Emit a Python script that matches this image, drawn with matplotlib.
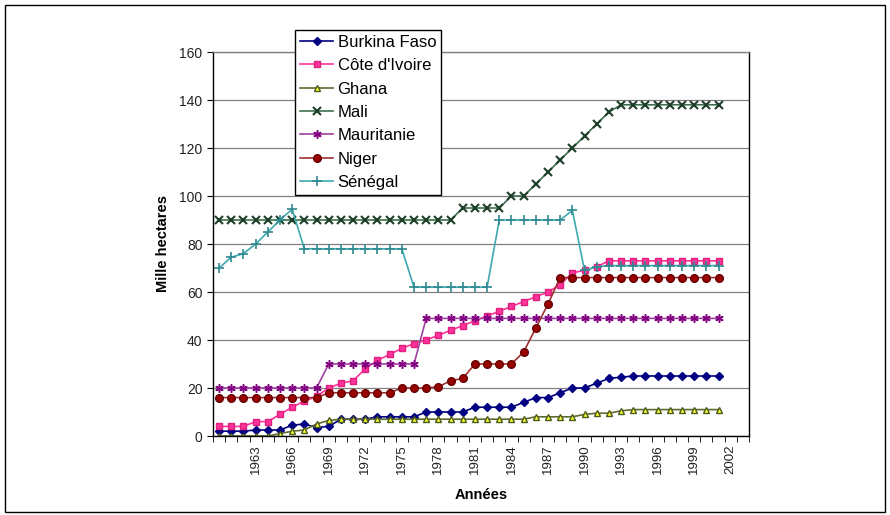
import matplotlib
matplotlib.use("Agg")
import matplotlib.pyplot as plt
from matplotlib.patches import Rectangle
import numpy as np

plt.rcParams['font.family'] = ['Liberation Sans', 'DejaVu Sans']

annees = np.arange(1960, 2002)

burkina = [2, 2, 2, 2.5, 2.5, 2.5, 4.5, 5, 3.5, 4, 7, 7, 7, 8, 8, 8, 8,
           10, 10, 10, 10, 12, 12, 12, 12, 14, 16, 16, 18, 20, 20, 22, 24,
           24.5, 25, 25, 25, 25, 25, 25, 25, 25]
cote_ivoire = [4, 4, 4, 6, 6, 9, 12, 14.5, 16.5, 20, 22, 23, 28, 31.5, 34,
               36.5, 38.5, 40, 42, 44, 46, 48, 50, 52, 54, 56, 58, 60, 63,
               68, 69, 70.5, 73, 73, 73, 73, 73, 73, 73, 73, 73, 73]
ghana = [0, 0, 0, 0, 0, 1, 2, 2.5, 5, 6.5, 7, 7, 7, 7, 7, 7, 7, 7, 7, 7,
         7, 7, 7, 7, 7, 7, 8, 8, 8, 8, 9, 9.5, 9.5, 10.5, 11, 11, 11, 11,
         11, 11, 11, 11]
mali = [90] * 20 + [95, 95, 95, 95, 100, 100, 105, 110, 115, 120, 125,
                    130, 135] + [138] * 9
mauritanie = [20] * 9 + [30] * 8 + [49] * 25
niger = [16] * 9 + [18] * 6 + [20, 20, 20, 20.5, 23, 24, 30, 30, 30, 30,
                               35, 45, 55] + [66] * 14
senegal = [70, 74.5, 76, 80, 85, 90, 94.5] + [78] * 9 + [62] * 7 + \
          [90] * 6 + [94, 69, 70.5] + [71] * 10

series = [
    ("Burkina Faso", burkina, dict(color="#000080", marker="D", ms=4.5,
                                   mfc="#000080", mec="#000080")),
    ("Côte d'Ivoire", cote_ivoire, dict(color="#FF3399", marker="s", ms=5,
                                        mfc="#FF3399", mec="#E0207F")),
    ("Ghana", ghana, dict(color="#5F6B2E", marker="^", ms=5,
                          mfc="#FFFF33", mec="#4A5A1A")),
    ("Mali", mali, dict(color="#3F6F4F", marker="x", ms=5.5, mew=1.5,
                        mec="#1F3F2A")),
    ("Mauritanie", mauritanie, dict(color="#A040A0", marker=(6, 2, 0),
                                    ms=6, mew=1.1, mec="#800080")),
    ("Niger", niger, dict(color="#A03030", marker="o", ms=5.5,
                          mfc="#990000", mec="#660000")),
    ("Sénégal", senegal, dict(color="#40A8B0", marker="+", ms=7, mew=1.2,
                              mec="#2F8A90")),
]

fig = plt.figure(figsize=(8.9, 5.15), dpi=100)
ax = fig.add_axes([213 / 890, 1 - 436 / 515, 536 / 890, 384 / 515])

for nom, vals, style in series:
    ax.plot(annees, vals, lw=1.2, label=nom, **style)

ax.set_xlim(1959.5, 2003.5)
ax.set_ylim(0, 160)
ax.set_yticks(np.arange(0, 161, 20))
ax.set_xticks(np.arange(1963, 2003, 3))
ax.set_xticklabels([str(a) for a in range(1963, 2003, 3)], rotation=90)
ax.set_xticks(np.arange(1959.5, 2004, 1), minor=True)
ax.tick_params(axis="x", which="major", length=0, pad=6, labelsize=9.5,
               labelcolor="#222222")
ax.tick_params(axis="x", which="minor", length=4, direction="out",
               color="black")
ax.tick_params(axis="y", length=4, direction="out", labelsize=10,
               labelcolor="#222222")
ax.grid(axis="y", color="#808080", lw=0.9)
ax.set_axisbelow(True)
for sp in ax.spines.values():
    sp.set_color("black")
    sp.set_linewidth(1)
ax.spines["top"].set_color("#808080")

ax.set_ylabel("Mille hectares", fontsize=10.5, fontweight="bold", labelpad=7)
ax.set_xlabel("Années", fontsize=10.5, fontweight="bold", labelpad=10)

leg = fig.legend(loc="upper left", bbox_to_anchor=(295 / 890, 1 - 30 / 515),
                 fontsize=12, frameon=True, fancybox=False, edgecolor="black",
                 framealpha=1, labelspacing=0.5, handlelength=2.0,
                 handletextpad=0.25, borderpad=0.3, borderaxespad=0)
leg.get_frame().set_linewidth(1)

fig.patches.append(Rectangle((5 / 890, 3 / 515), 880 / 890, 507 / 515,
                             transform=fig.transFigure, fill=False,
                             edgecolor="black", lw=1))

fig.savefig("out.png", dpi=100)
